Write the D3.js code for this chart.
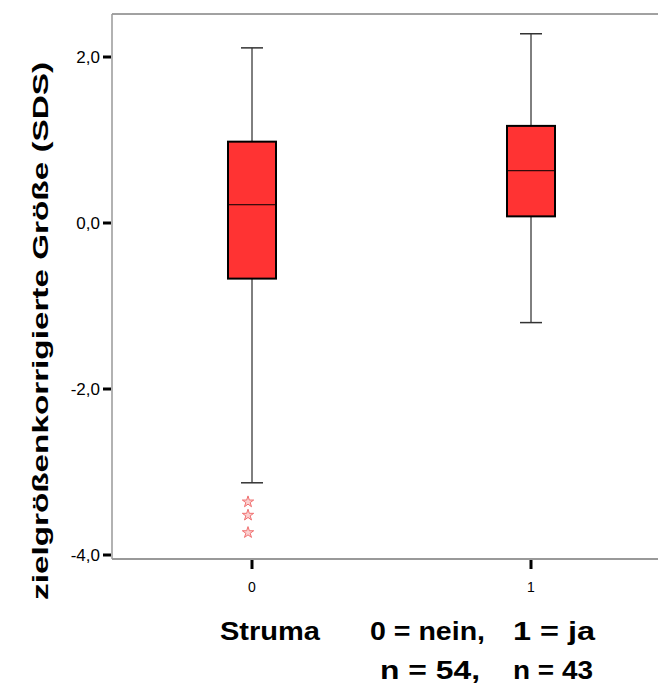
<!DOCTYPE html>
<html>
<head>
<meta charset="utf-8">
<script src="https://cdnjs.cloudflare.com/ajax/libs/d3/7.8.5/d3.min.js"></script>
<style>
  body { margin: 0; background: #fff; }
  svg { display: block; font-family: Arial, "Liberation Sans", sans-serif; }
</style>
</head>
<body>
<svg width="658" height="684"></svg>
<script>
// boxplot stats
var groups = ['0', '1'];
var whiskerHigh = [2.11, 2.28];
var q3 = [0.98, 1.17];
var median = [0.22, 0.63];
var q1 = [-0.67, 0.08];
var whiskerLow = [-3.13, -1.20];
var extremes = [[-3.36, -3.52, -3.73], []];
var yTicks = [2, 0, -2, -4];

var data = groups.map((g, i) => ({
  g: g, hi: whiskerHigh[i], q3: q3[i], med: median[i], q1: q1[i], lo: whiskerLow[i], out: extremes[i]
}));

var svg = d3.select('svg');
var plotL = 112, plotT = 14, plotB = 559, plotR = 671;

var y = d3.scaleLinear().domain([-4, 2]).range([555, 57]);
var x = d3.scalePoint().domain(groups).range([252, 531]);
var boxW = 48, capW = 22;

// frame
svg.append('line').attr('x1', plotL).attr('x2', plotR).attr('y1', plotT).attr('y2', plotT)
  .attr('stroke', '#444').attr('stroke-width', 1);
svg.append('line').attr('x1', plotL).attr('x2', plotL).attr('y1', plotT).attr('y2', plotB)
  .attr('stroke', '#999').attr('stroke-width', 1.5);
svg.append('line').attr('x1', plotL).attr('x2', plotR).attr('y1', plotB).attr('y2', plotB)
  .attr('stroke', '#999').attr('stroke-width', 2);

// y axis ticks
var yAxis = svg.append('g');
yAxis.selectAll('line').data(yTicks).enter().append('line')
  .attr('x1', plotL - 9).attr('x2', plotL - 1)
  .attr('y1', d => y(d)).attr('y2', d => y(d))
  .attr('stroke', '#000').attr('stroke-width', 3);
yAxis.selectAll('text').data(yTicks).enter().append('text')
  .attr('x', plotL - 12).attr('y', d => y(d)).attr('dy', '0.36em')
  .attr('text-anchor', 'end').style('font-size', '17px')
  .text(d => d3.format('.1f')(d).replace('.', ',').replace('−', '-'));

// x axis ticks
var xAxis = svg.append('g');
xAxis.selectAll('line').data(groups).enter().append('line')
  .attr('x1', d => x(d)).attr('x2', d => x(d))
  .attr('y1', plotB + 1).attr('y2', plotB + 10)
  .attr('stroke', '#000').attr('stroke-width', 3);
xAxis.selectAll('text').data(groups).enter().append('text')
  .attr('x', d => x(d)).attr('y', 592)
  .attr('text-anchor', 'middle').style('font-size', '14px')
  .text(d => d);

// boxes
var bx = svg.selectAll('g.box').data(data).enter().append('g').attr('class', 'box');
bx.append('line').attr('x1', d => x(d.g)).attr('x2', d => x(d.g))
  .attr('y1', d => y(d.hi)).attr('y2', d => y(d.q3)).attr('stroke', '#000');
bx.append('line').attr('x1', d => x(d.g)).attr('x2', d => x(d.g))
  .attr('y1', d => y(d.q1)).attr('y2', d => y(d.lo)).attr('stroke', '#000');
bx.append('line').attr('x1', d => x(d.g) - capW / 2).attr('x2', d => x(d.g) + capW / 2)
  .attr('y1', d => y(d.hi)).attr('y2', d => y(d.hi)).attr('stroke', '#333').attr('stroke-width', 1.5);
bx.append('line').attr('x1', d => x(d.g) - capW / 2).attr('x2', d => x(d.g) + capW / 2)
  .attr('y1', d => y(d.lo)).attr('y2', d => y(d.lo)).attr('stroke', '#333').attr('stroke-width', 1.5);
bx.append('rect').attr('x', d => x(d.g) - boxW / 2).attr('width', boxW)
  .attr('y', d => y(d.q3)).attr('height', d => y(d.q1) - y(d.q3))
  .attr('fill', '#ff3333').attr('stroke', '#000').attr('stroke-width', 2);
bx.append('line').attr('x1', d => x(d.g) - boxW / 2).attr('x2', d => x(d.g) + boxW / 2)
  .attr('y1', d => y(d.med)).attr('y2', d => y(d.med)).attr('stroke', '#000').attr('stroke-width', 1);

// extreme values
var star = d3.symbol().type(d3.symbolStar).size(40);
bx.each(function(d) {
  d3.select(this).selectAll('path.out').data(d.out).enter().append('path')
    .attr('class', 'out')
    .attr('transform', v => `translate(${x(d.g) - 4},${y(v)})`)
    .attr('d', star)
    .attr('fill', '#fbd0d0').attr('stroke', '#f07070').attr('stroke-width', 1);
});

// y label
svg.append('text')
  .attr('transform', 'translate(48,331) rotate(-90)')
  .attr('text-anchor', 'middle')
  .style('font-size', '22px').style('font-weight', 'bold')
  .attr('textLength', 538).attr('lengthAdjust', 'spacingAndGlyphs')
  .text('zielgrößenkorrigierte Größe (SDS)');

// x labels
var xl = [
  {t: 'Struma', x: 220, y: 640, w: 100},
  {t: '0 = nein,', x: 370, y: 640, w: 115},
  {t: '1 = ja', x: 513, y: 640, w: 82},
  {t: 'n = 54,', x: 380, y: 679, w: 100},
  {t: 'n = 43', x: 513, y: 679, w: 80}
];
svg.selectAll('text.xl').data(xl).enter().append('text').attr('class', 'xl')
  .attr('x', d => d.x).attr('y', d => d.y)
  .style('font-size', '25px').style('font-weight', 'bold')
  .attr('textLength', d => d.w).attr('lengthAdjust', 'spacingAndGlyphs')
  .text(d => d.t);
</script>
</body>
</html>
